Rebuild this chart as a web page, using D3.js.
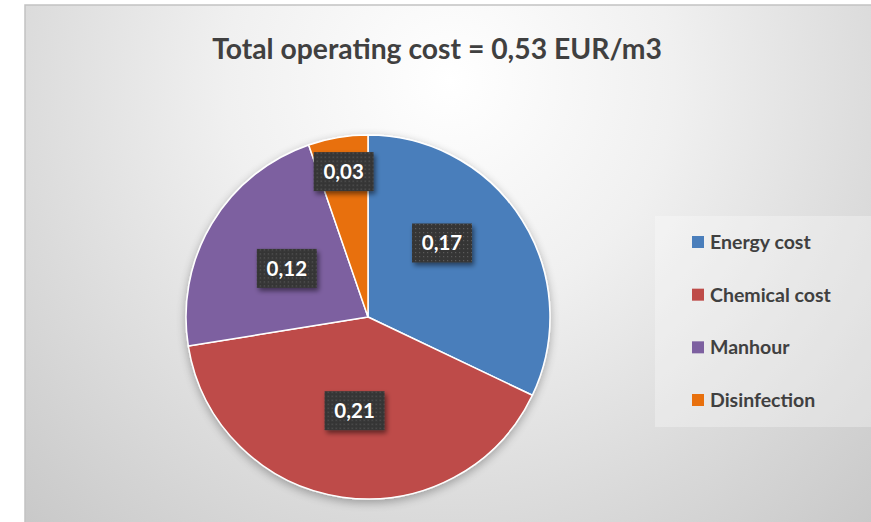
<!DOCTYPE html>
<html>
<head>
<meta charset="utf-8">
<script src="https://cdn.jsdelivr.net/npm/d3@7/dist/d3.min.js"></script>
<style>
  html, body { margin: 0; padding: 0; background: #ffffff; }
  svg { display: block; }
</style>
</head>
<body>
<svg id="chart" width="871" height="522"></svg>
<script>
// ---- data ----
const titleText = "Total operating cost = 0,53 EUR/m3";
const categories = ["Energy cost", "Chemical cost", "Manhour", "Disinfection"];
const values = [0.170, 0.214, 0.118, 0.028];
const colors = ["#4A7EBB", "#BE4B48", "#7D60A0", "#E8700D"];

// ---- layout ----
const W = 871, H = 522;
const svg = d3.select("#chart");
const defs = svg.append("defs");

// background radial gradient
const bg = defs.append("radialGradient").attr("id", "bgGrad")
  .attr("gradientUnits", "userSpaceOnUse")
  .attr("cx", 450).attr("cy", 80).attr("r", 640);
bg.append("stop").attr("offset", "0%").attr("stop-color", "#ffffff");
bg.append("stop").attr("offset", "35%").attr("stop-color", "#f0f0f0");
bg.append("stop").attr("offset", "100%").attr("stop-color", "#c6c6c6");

// shadow filters
const sh = defs.append("filter").attr("id", "pieShadow")
  .attr("x", "-20%").attr("y", "-20%").attr("width", "140%").attr("height", "140%");
sh.append("feGaussianBlur").attr("in", "SourceAlpha").attr("stdDeviation", 5).attr("result", "b");
sh.append("feOffset").attr("in", "b").attr("dx", 0).attr("dy", 3).attr("result", "o");
sh.append("feComponentTransfer").attr("in", "o").attr("result", "o2")
  .append("feFuncA").attr("type", "linear").attr("slope", 0.3);
const m1 = sh.append("feMerge");
m1.append("feMergeNode").attr("in", "o2");
m1.append("feMergeNode").attr("in", "SourceGraphic");

const lsh = defs.append("filter").attr("id", "lblShadow")
  .attr("x", "-30%").attr("y", "-30%").attr("width", "160%").attr("height", "160%");
lsh.append("feGaussianBlur").attr("in", "SourceAlpha").attr("stdDeviation", 2.5).attr("result", "b");
lsh.append("feOffset").attr("in", "b").attr("dx", 2).attr("dy", 3).attr("result", "o");
lsh.append("feComponentTransfer").attr("in", "o").attr("result", "o2")
  .append("feFuncA").attr("type", "linear").attr("slope", 0.5);
const m2 = lsh.append("feMerge");
m2.append("feMergeNode").attr("in", "o2");
m2.append("feMergeNode").attr("in", "SourceGraphic");

// dotted texture for label boxes
const pat = defs.append("pattern").attr("id", "dots")
  .attr("patternUnits", "userSpaceOnUse").attr("width", 4).attr("height", 4);
pat.append("rect").attr("width", 4).attr("height", 4).attr("fill", "#363636");
pat.append("rect").attr("x", 1).attr("y", 1).attr("width", 1.2).attr("height", 1.2).attr("fill", "#5a5a5a");

// chart area
const area = { x: 25, y: 5 };
svg.append("rect")
  .attr("x", area.x).attr("y", area.y)
  .attr("width", W - area.x + 20).attr("height", H - area.y + 20)
  .attr("fill", "url(#bgGrad)")
  .attr("stroke", "#c2c2c2").attr("stroke-width", 1.5);

// title
svg.append("text")
  .attr("x", 437).attr("y", 59)
  .attr("text-anchor", "middle")
  .attr("font-family", "Lato, 'Open Sans', sans-serif")
  .attr("font-weight", "bold")
  .attr("font-size", 28.3)
  .attr("fill", "#404040")
  .text(titleText);

// pie
const cx = 368, cy = 317, R = 182;
const pie = d3.pie().sort(null).value(d => d);
const arcs = pie(values);
const arc = d3.arc().innerRadius(0).outerRadius(R);

const g = svg.append("g").attr("transform", `translate(${cx},${cy})`);
g.append("g").attr("filter", "url(#pieShadow)")
  .selectAll("path").data(arcs).join("path")
  .attr("d", arc)
  .attr("fill", (d, i) => colors[i])
  .attr("stroke", "#ffffff").attr("stroke-width", 1.5)
  .attr("stroke-linejoin", "round");

// data labels (Excel best-fit style placement)
const total = d3.sum(values);
const fmt = v => d3.format(".2f")(v).replace(".", ",");
const labelPos = d => {
  const frac = d.value / total;
  const r = frac < 0.1 ? R * 0.81 : R * 0.52;
  let a = (d.startAngle + d.endAngle) / 2;
  // slices spanning the right side get their label pulled toward the top
  if (d.startAngle === 0 && d.endAngle > Math.PI / 2) { a = Math.PI / 4; return [Math.sin(a) * R * 0.575, -Math.cos(a) * R * 0.575]; }
  return [Math.sin(a) * r, -Math.cos(a) * r];
};
const bw = 60, bh = 39;
const lbl = g.selectAll("g.lbl").data(arcs).join("g").attr("class", "lbl")
  .attr("transform", d => { const c = labelPos(d); return `translate(${c[0]},${c[1]})`; });
lbl.append("rect")
  .attr("x", -bw / 2).attr("y", -bh / 2).attr("width", bw).attr("height", bh)
  .attr("fill", "url(#dots)")
  .attr("filter", "url(#lblShadow)");
lbl.append("text")
  .attr("text-anchor", "middle").attr("dy", "0.36em")
  .attr("font-family", "Lato, 'Open Sans', sans-serif")
  .attr("font-weight", "bold").attr("font-size", 20.5)
  .attr("fill", "#ffffff")
  .text(d => fmt(d.value));

// legend
const lg = svg.append("g");
lg.append("rect")
  .attr("x", 655).attr("y", 216).attr("width", 220).attr("height", 211)
  .attr("fill", "#ffffff").attr("fill-opacity", 0.3);
const ly = d3.scalePoint().domain(categories).range([242, 400]);
const item = lg.selectAll("g.it").data(categories).join("g").attr("class", "it")
  .attr("transform", d => `translate(692,${ly(d)})`);
item.append("rect").attr("x", 0).attr("y", -6).attr("width", 12).attr("height", 12)
  .attr("fill", (d, i) => colors[i]);
item.append("text").attr("x", 18).attr("dy", "0.36em")
  .attr("font-family", "Lato, 'Open Sans', sans-serif")
  .attr("font-weight", "bold").attr("font-size", 19.5)
  .attr("fill", "#404040")
  .text(d => d);
</script>
</body>
</html>
